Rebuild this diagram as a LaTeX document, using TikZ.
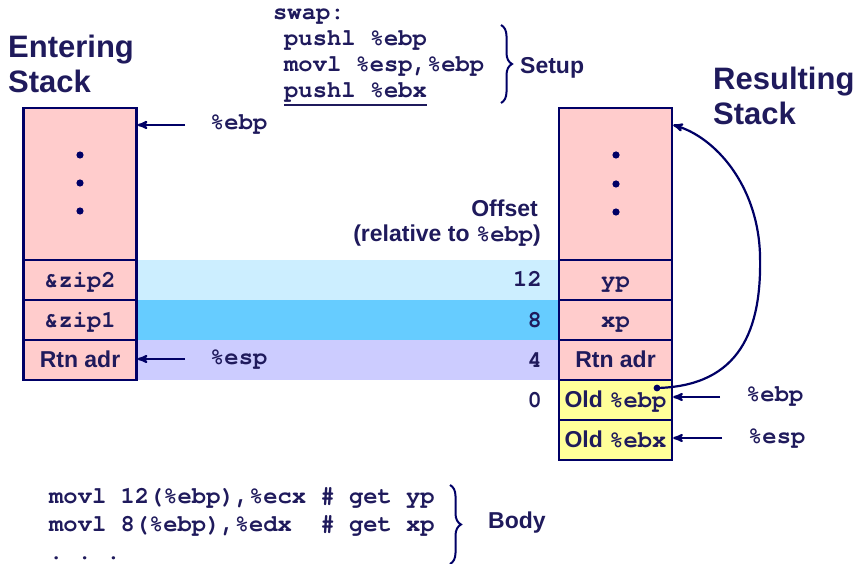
\documentclass[tikz,border=0pt]{standalone}
\usepackage{fontspec}
\setmainfont{Liberation Sans}
\setmonofont{TeX Gyre Cursor}
\usetikzlibrary{arrows,decorations.pathreplacing}
\definecolor{navy}{HTML}{000066}
\definecolor{ink}{HTML}{1F1A5C}
\definecolor{cellpink}{HTML}{FFCCCC}
\definecolor{cellyellow}{HTML}{FFFF99}
\definecolor{bandlight}{HTML}{CCEEFF}
\definecolor{bandblue}{HTML}{66CCFF}
\definecolor{bandlav}{HTML}{CCCCFF}
\newcommand{\sz}{\fontsize{23}{26}\selectfont\bfseries}
\newcommand{\code}{\fontsize{23.8}{26}\selectfont\ttfamily\bfseries}
\newcommand{\ttl}{\fontsize{31}{35}\selectfont\bfseries}

\tikzstyle{cell} = [rectangle, draw=navy, line width=2.4pt, fill=cellpink,
    minimum width=113pt, minimum height=40pt, inner sep=0pt, text=ink, font=\sz,
    text height=17pt, text depth=2pt]
\tikzstyle{bigcell} = [cell, minimum height=152pt]
\tikzstyle{oldcell} = [cell, fill=cellyellow]
\tikzstyle{band} = [rectangle, inner sep=0pt, minimum height=40pt, minimum width=422pt]
\tikzstyle{ptr} = [->, >=stealth', navy, line width=2.2pt]
\tikzstyle{lbl} = [inner sep=0pt, anchor=west, text height=10pt, text depth=0pt, text=ink]
\tikzstyle{txt} = [inner sep=0pt, anchor=base west, text=ink]
\tikzstyle{brc} = [navy, line width=2pt, decorate, decoration={brace, amplitude=11pt}]

\begin{document}
\begin{tikzpicture}[x=1pt,y=-1pt]
  \useasboundingbox (0,0) rectangle (863,564);

  % offset bands
  \node[band, fill=bandlight] (b12) at (348,280) {};
  \node[band, fill=bandblue]  (b8)  at (348,320) {};
  \node[band, fill=bandlav]   (b4)  at (348,360) {};

  % entering stack
  \node[txt, font=\ttl] (enter1) at (8,58) {Entering};
  \node[txt, font=\ttl] (enter2) at (8,93) {Stack};
  \node[bigcell] (ltop)  at (80,184) {};
  \node[cell]    (lzip2) at (80,280) {\code\&zip2};
  \node[cell]    (lzip1) at (80,320) {\code\&zip1};
  \node[cell]    (lrtn)  at (80,360) {Rtn adr};
  \foreach \y in {155,183,211}
    \fill[navy] (80,\y) circle (3.6);

  \node[lbl] (lebp) at (210,125) {\code\%ebp};
  \node[lbl] (lesp) at (210,359) {\code\%esp};
  \draw[ptr] ([xshift=-25pt]lebp.west) -- (lebp.west -| ltop.east);
  \draw[ptr] ([xshift=-25pt]lesp.west) -- (lesp.west -| lrtn.east);

  % setup code
  \node[txt, font=\code] (swap)  at (273,20) {swap:};
  \node[txt, font=\code] (push1) at (284,46) {pushl \%ebp};
  \node[txt, font=\code] (movl)  at (284,72) {movl \%esp,\%ebp};
  \node[txt, font=\code] (push2) at (284,98) {pushl \%ebx};
  \draw[ink, line width=2pt] ([yshift=-7pt]push2.base west) -- ([yshift=-7pt]push2.base east);
  \draw[brc] (501,25) -- (501,103);
  \node[txt, font=\sz] (setup) at (520,74) {Setup};

  % offsets
  \node[inner sep=0pt, anchor=base east, text=ink, font=\sz] (offset) at (538,217) {Offset};
  \node[inner sep=0pt, anchor=base east, text=ink, font=\sz] (offrel) at (541,242)
       {(relative to {\code\%ebp})};
  \node[inner sep=0pt, anchor=base east, text=ink, font=\code] (o12) at (542,287) {12};
  \node[inner sep=0pt, anchor=base east, text=ink, font=\code] (o8)  at (542,327) {8};
  \node[inner sep=0pt, anchor=base east, text=ink, font=\code] (o4)  at (542,367) {4};
  \node[inner sep=0pt, anchor=base east, text=ink, font=\code] (o0)  at (542,407) {0};

  % resulting stack
  \node[txt, font=\ttl] (result1) at (713,90) {Resulting};
  \node[txt, font=\ttl] (result2) at (713,125) {Stack};
  \node[bigcell] (rtop) at (615.5,184) {};
  \node[cell]    (ryp)  at (615.5,280) {\code yp};
  \node[cell]    (rxp)  at (615.5,320) {\code xp};
  \node[cell]    (rrtn) at (615.5,360) {Rtn adr};
  \node[oldcell] (rold1) at (615.5,400) {Old {\code\%ebp}};
  \node[oldcell] (rold2) at (615.5,440) {Old {\code\%ebx}};
  \foreach \y in {155,184,212}
    \fill[navy] (616,\y) circle (3.6);

  \node[lbl] (rebp) at (746,397) {\code\%ebp};
  \node[lbl] (resp) at (748,438) {\code\%esp};
  \draw[ptr] ([xshift=-26pt]rebp.west) -- (rebp.west -| rold1.east);
  \draw[ptr] ([xshift=-26pt]resp.west) -- (resp.west -| rold2.east);

  \coordinate (ebpdot) at (657,388);
  \fill[navy] (ebpdot) circle (3.4);
  \draw[ptr] (ebpdot) .. controls (740,386) and (762,330) .. (760,255)
                      .. controls (758,185) and (715,137) .. ([yshift=59pt]rtop.east);

  % body code
  \node[txt, font=\code] (body1) at (49,503) {movl 12(\%ebp),\%ecx \# get yp};
  \node[txt, font=\code] (body2) at (49,531) {movl 8(\%ebp),\%edx\ \ \# get xp};
  \node[txt, font=\code] (body3) at (49,559) {.\ .\ .};
  \draw[brc] (450,485) -- (450,564);
  \node[txt, font=\sz] (body) at (488,528) {Body};
\end{tikzpicture}
\end{document}
